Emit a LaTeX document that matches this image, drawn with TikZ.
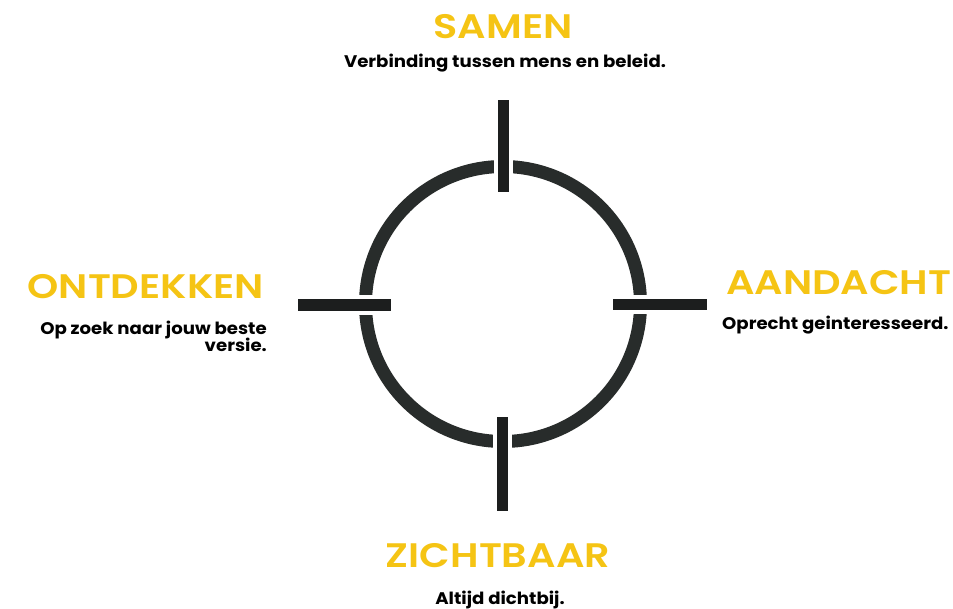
\documentclass[tikz,border=0pt]{standalone}
\usepackage{fontspec}
\setmainfont{Poppins}
\newfontfamily\titlefont{Poppins SemiBold}[FakeStretch=1.17]
\newfontfamily\subfont{Poppins Bold}[FakeStretch=1.08]
\definecolor{gold}{RGB}{245,196,20}
\definecolor{ring}{RGB}{40,44,43}
\definecolor{bar}{RGB}{28,30,30}
\begin{document}
\begin{tikzpicture}[x=1pt,y=-1pt,
  title/.style={text=gold,font=\fontsize{34}{34}\titlefont,inner sep=0pt,anchor=base},
  sub/.style={text=black,font=\fontsize{16.8}{17.5}\subfont,inner sep=0pt,anchor=base},
  tick/.style={fill=bar,draw=none},
  gapbox/.style={fill=white,draw=none}]
\useasboundingbox (0,0) rectangle (953,609);
\fill[white] (0,0) rectangle (953,609);
\coordinate (c) at (503,304);
\draw[ring,line width=13pt] (c) circle[radius=137.5];
% gaps
\fill[gapbox] (494,150) rectangle (513,195);
\fill[gapbox] (493,415) rectangle (512,460);
\fill[gapbox] (355,295) rectangle (395,315);
\fill[gapbox] (610,295) rectangle (650,314);
% ticks
\fill[tick] (498,100) rectangle (509,192);
\fill[tick] (497,417) rectangle (508,511);
\fill[tick] (298,299) rectangle (391,311);
\fill[tick] (613,299) rectangle (707,310);
% texts
\node[title] (samen) at (503,39) {SAMEN};
\node[sub] (samensub) at (505,68) {Verbinding tussen mens en beleid.};
\node[title,anchor=base east] (ont) at (264,299) {ONTDEKKEN};
\node[sub,anchor=base east] (ontsub1) at (267,335) {Op zoek naar jouw beste};
\node[sub,anchor=base east] (ontsub2) at (267,352) {versie.};
\node[title,anchor=base west] (aan) at (726,295) {AANDACHT};
\node[sub,anchor=base west] (aansub) at (722,330) {Oprecht geinteresseerd.};
\node[title] (zicht) at (498,567) {ZICHTBAAR};
\node[sub] (zichtsub) at (500,604) {Altijd dichtbij.};
\end{tikzpicture}
\end{document}
